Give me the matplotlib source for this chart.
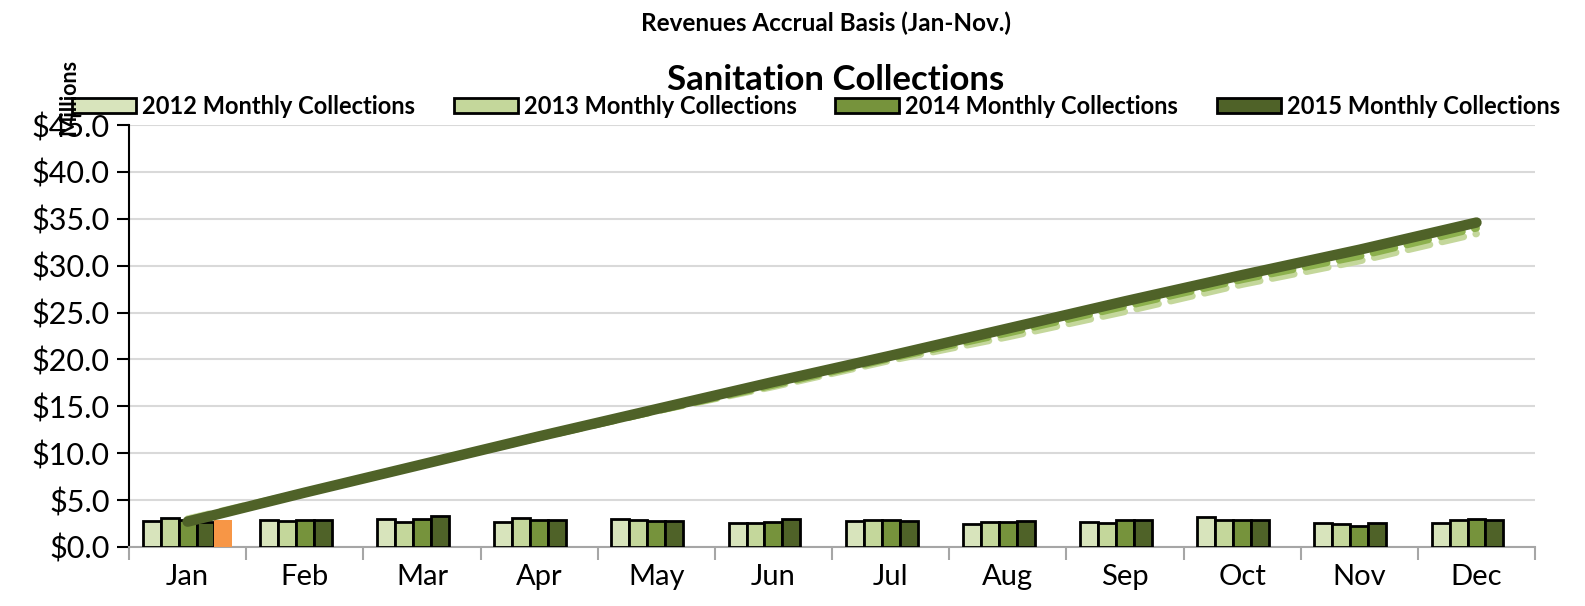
"""Sanitation collections: monthly bars per year with running totals."""
import matplotlib
matplotlib.use("Agg")
import matplotlib.pyplot as plt
import matplotlib.ticker as ticker
import numpy as np

plt.rcParams["font.family"] = ["Lato", "DejaVu Sans"]

MONTHS = ["Jan", "Feb", "Mar", "Apr", "May", "Jun",
          "Jul", "Aug", "Sep", "Oct", "Nov", "Dec"]

# Monthly collections, $ millions
COLL_2012 = [2.80, 2.83, 2.94, 2.69, 2.94, 2.58, 2.72, 2.40, 2.62, 3.15, 2.58, 2.51]
COLL_2013 = [3.05, 2.76, 2.69, 3.05, 2.83, 2.51, 2.87, 2.69, 2.58, 2.90, 2.40, 2.87]
COLL_2014 = [2.87, 2.83, 2.94, 2.90, 2.76, 2.69, 2.83, 2.65, 2.87, 2.90, 2.29, 3.01]
COLL_2015 = [2.70, 2.90, 3.26, 2.87, 2.76, 2.97, 2.80, 2.72, 2.87, 2.83, 2.58, 2.83]
COLL_2016 = [2.90]  # January only so far

# Year-to-date running totals, $ millions
YTD_2013 = [3.00, 5.90, 8.80, 11.70, 14.50, 17.10, 19.90, 22.40, 25.10, 28.00, 30.50, 33.40]
YTD_2014 = [2.90, 5.85, 8.75, 11.65, 14.50, 17.25, 20.10, 22.80, 25.65, 28.50, 31.00, 34.00]
YTD_2015 = [2.70, 5.80, 8.80, 11.80, 14.70, 17.60, 20.40, 23.30, 26.20, 29.00, 31.70, 34.60]

SERIES = [
    ("2012 Monthly Collections", COLL_2012, "#d8e4bc"),
    ("2013 Monthly Collections", COLL_2013, "#c4d79b"),
    ("2014 Monthly Collections", COLL_2014, "#76933c"),
    ("2015 Monthly Collections", COLL_2015, "#4f6228"),
]

fig = plt.figure(figsize=(15.85, 6.06), dpi=100)
ax = fig.add_axes([0.0814, 0.0974, 0.8871, 0.6963])

x = np.arange(len(MONTHS))
w = 0.153
for j, (name, vals, color) in enumerate(SERIES):
    ax.bar(x + (j - 2) * w, vals, w, color=color, edgecolor="black",
           linewidth=2, label=name, zorder=3)
ax.bar(x[:len(COLL_2016)] + 2 * w, COLL_2016, w, color="#f79646",
       edgecolor="none", zorder=3)

# running totals drawn over the bars
ax.plot(x, YTD_2013, color="#c4d79b", lw=5, dashes=(3.2, 1.8),
        dash_capstyle="round", zorder=4)
ax.plot(x, YTD_2014, color="#8db14e", lw=5, dashes=(3.2, 1.8),
        dash_capstyle="round", zorder=5)
ax.plot(x, YTD_2015, color="#4f6228", lw=7.5, solid_capstyle="round",
        zorder=6)

ax.set_xlim(-0.5, len(MONTHS) - 0.5)
ax.set_ylim(0, 45)
ax.yaxis.set_major_locator(ticker.MultipleLocator(5))
ax.yaxis.set_major_formatter(ticker.FuncFormatter(lambda v, _: f"${v:.1f}"))
ax.grid(axis="y", color="#d9d9d9", lw=1.5, zorder=0)
ax.set_axisbelow(True)

ax.set_xticks(x)
ax.set_xticklabels(MONTHS)
ax.set_xticks(np.arange(-0.5, len(MONTHS)), minor=True)
ax.tick_params(axis="x", which="major", length=0, pad=12, labelsize=21)
ax.tick_params(axis="x", which="minor", length=9, width=1.5, color="#a6a6a6")
ax.tick_params(axis="y", length=9, width=1.5, labelsize=22, pad=5)

for side in ("top", "right"):
    ax.spines[side].set_visible(False)
ax.spines["left"].set_linewidth(1.5)
ax.spines["bottom"].set_color("#a6a6a6")
ax.spines["bottom"].set_linewidth(1.5)

fig.text(0.521, 0.962, "Revenues Accrual Basis (Jan-Nov.)", ha="center",
         va="center", fontsize=17.5, fontweight="bold")
fig.text(0.527, 0.868, "Sanitation Collections", ha="center", va="center",
         fontsize=25, fontweight="bold")
fig.text(0.0435, 0.84, "Millions", rotation=90, ha="center", va="center",
         fontsize=15.5, fontweight="bold")

ax.legend(loc="lower left", bbox_to_anchor=(-0.047, 0.995), ncol=4,
          frameon=False, handlelength=2.7, handleheight=0.65,
          handletextpad=0.25, columnspacing=1.65, borderaxespad=0,
          prop={"weight": "bold", "size": 17})

fig.savefig("out.png", dpi=100)
